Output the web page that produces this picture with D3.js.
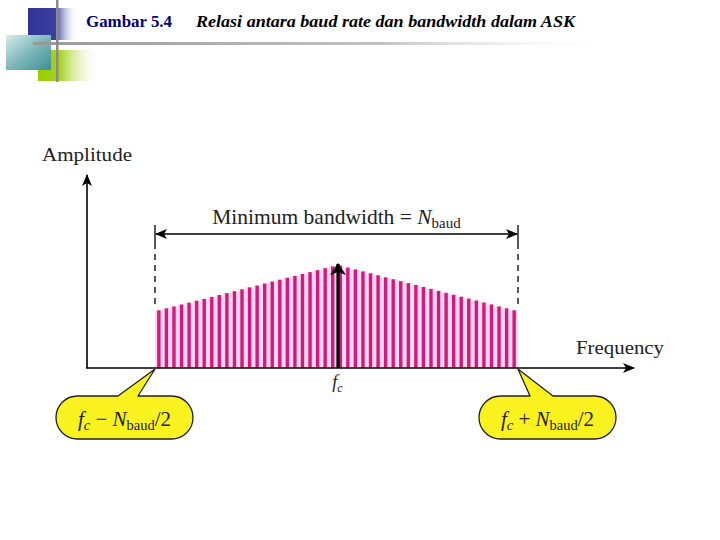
<!DOCTYPE html>
<html><head><meta charset="utf-8">
<script src="https://cdn.jsdelivr.net/npm/d3@7"></script>
<style>body{margin:0;background:#fff}svg{display:block}</style>
</head><body>
<svg id="c" width="720" height="540"></svg>
<script>
// ---- data ----
const titleNumber = "Gambar 5.4";
const titleText = "Relasi antara baud rate dan bandwidth dalam ASK";
const axisLabels = ["Amplitude", "Frequency"];
const bandwidthLabel = ["Minimum bandwidth = ", "N", "baud"];
// bar (component) amplitudes across the band, left to right
const amplitudes = [0.560,0.579,0.597,0.616,0.634,0.653,0.671,0.690,0.709,0.727,0.746,0.764,
  0.783,0.801,0.820,0.839,0.857,0.876,0.894,0.913,0.931,0.950,0.969,0.987,
  0.994,0.975,0.957,0.938,0.919,0.900,0.881,0.862,0.843,0.824,0.806,0.787,
  0.768,0.749,0.730,0.711,0.692,0.674,0.655,0.636,0.617,0.598,0.579,0.560];
const carrierAmplitude = 1.0;
const bandEdges = [-0.5, 0.5]; // fc -/+ Nbaud/2
const callouts = [{f:-0.5, sign:"\u2212"}, {f:0.5, sign:"+"}];

const svg = d3.select("#c");
const defs = svg.append("defs");
const SERIF = "Liberation Serif";

// ---- header decoration ----
function lg(id, stops, x2, y2){
  const g = defs.append("linearGradient").attr("id", id)
    .attr("x1",0).attr("y1",0).attr("x2",x2).attr("y2",y2);
  stops.forEach(s=>g.append("stop").attr("offset",s[0]).attr("stop-color",s[1]).attr("stop-opacity",s[2]===undefined?1:s[2]));
}
lg("gBlue", [[0,"#333399"],[0.55,"#3a3f9c"],[1,"#ffffff",0]], 1, 0);
lg("gTeal", [[0,"#d8ecec"],[0.5,"#7fb8ba"],[1,"#3d8f95"]], 1, 1);
lg("gGreen", [[0,"#99cc00"],[0.35,"#a6d224"],[1,"#ffffff",0]], 1, 0);
lg("gLine", [[0,"#999999"],[0.6,"#c4c4c4"],[1,"#ffffff",0]], 1, 0);

svg.append("rect").attr("x",28).attr("y",8).attr("width",50).attr("height",32).attr("fill","url(#gBlue)");
svg.append("rect").attr("x",38).attr("y",50).attr("width",62).attr("height",31).attr("fill","url(#gGreen)");
svg.append("rect").attr("x",6).attr("y",35).attr("width",45).attr("height",35).attr("fill","url(#gTeal)");
svg.append("rect").attr("x",33).attr("y",42).attr("width",590).attr("height",3).attr("fill","url(#gLine)");
svg.append("rect").attr("x",56).attr("y",0).attr("width",2.5).attr("height",82).attr("fill","#8a8a8a");

svg.append("text").attr("x",86).attr("y",27)
  .attr("font-family",SERIF).attr("font-weight","bold").attr("font-size",16.5)
  .attr("textLength",86).attr("lengthAdjust","spacingAndGlyphs")
  .attr("fill","#000080").text(titleNumber);
svg.append("text").attr("x",196).attr("y",27)
  .attr("font-family",SERIF).attr("font-weight","bold").attr("font-style","italic")
  .attr("font-size",17).attr("textLength",379).attr("lengthAdjust","spacingAndGlyphs")
  .attr("fill","#000").text(titleText);

// ---- scales ----
const x0 = 87, y0 = 368;
const fx = d3.scaleLinear().domain(bandEdges).range([155, 518]);
const band = d3.scaleBand().domain(d3.range(amplitudes.length)).range([153, 520]).padding(0.55);
const y = d3.scaleLinear().domain([0, 1]).range([y0, 265]);

// arrow markers
defs.append("marker").attr("id","ah").attr("viewBox","0 0 12 10").attr("refX",11).attr("refY",5)
  .attr("markerWidth",12).attr("markerHeight",10).attr("markerUnits","userSpaceOnUse").attr("orient","auto-start-reverse")
  .append("path").attr("d","M0,0 L12,5 L0,10 L3,5 Z").attr("fill","#000");
defs.append("marker").attr("id","ahBig").attr("viewBox","0 0 12 16").attr("refX",11).attr("refY",8)
  .attr("markerWidth",14).attr("markerHeight",16).attr("markerUnits","userSpaceOnUse").attr("orient","auto")
  .append("path").attr("d","M0,0 L12,8 L0,16 L3,8 Z").attr("fill","#000");

// ---- spectrum ----
const areaPts = [];
amplitudes.forEach((a,i)=>{
  const step = band.step();
  const cx = band(i) + band.bandwidth()/2;
  areaPts.push([cx - step/2, a], [cx + step/2, a]);
});
svg.append("path")
  .attr("d", d3.area().x(d=>d[0]).y0(y(0)).y1(d=>y(d[1]))(areaPts))
  .attr("fill","#fdd9f0");
svg.append("g").selectAll("rect").data(amplitudes).join("rect")
  .attr("x",(d,i)=>band(i)).attr("width",band.bandwidth())
  .attr("y",d=>y(d)).attr("height",d=>y(0)-y(d))
  .attr("fill","#d3197f");

// ---- axes ----
svg.append("line").attr("x1",x0).attr("y1",y0).attr("x2",x0).attr("y2",175)
  .attr("stroke","#000").attr("stroke-width",1.6).attr("marker-end","url(#ah)");
svg.append("line").attr("x1",x0-1).attr("y1",y0).attr("x2",634).attr("y2",y0)
  .attr("stroke","#000").attr("stroke-width",1.6).attr("marker-end","url(#ah)");
svg.append("text").attr("x",42).attr("y",161)
  .attr("font-family",SERIF).attr("font-size",19).attr("textLength",90).attr("lengthAdjust","spacingAndGlyphs")
  .attr("fill","#222").text(axisLabels[0]);
svg.append("text").attr("x",576).attr("y",354)
  .attr("font-family",SERIF).attr("font-size",19).attr("textLength",88).attr("lengthAdjust","spacingAndGlyphs")
  .attr("fill","#222").text(axisLabels[1]);

// carrier arrow
svg.append("line").attr("x1",fx(0)+1.5).attr("y1",y0).attr("x2",fx(0)+1.5).attr("y2",y(carrierAmplitude)-1)
  .attr("stroke","#000").attr("stroke-width",3.2).attr("marker-end","url(#ahBig)");
const fcT = svg.append("text").attr("x",fx(0)+1).attr("y",388).attr("text-anchor","middle")
  .attr("font-family",SERIF).attr("font-style","italic").attr("font-size",18).attr("fill","#222");
fcT.append("tspan").text("f");
fcT.append("tspan").attr("font-size",12).attr("dy",4).text("c");

// bandwidth dimension
bandEdges.forEach(f=>{
  svg.append("line").attr("x1",fx(f)).attr("x2",fx(f)).attr("y1",243).attr("y2",308)
    .attr("stroke","#222").attr("stroke-width",1.5).attr("stroke-dasharray","6,5");
  svg.append("line").attr("x1",fx(f)).attr("x2",fx(f)).attr("y1",225).attr("y2",243)
    .attr("stroke","#222").attr("stroke-width",1.5);
});
svg.append("line").attr("x1",fx(-0.5)+1).attr("x2",fx(0.5)-1).attr("y1",234).attr("y2",234)
  .attr("stroke","#000").attr("stroke-width",1.5)
  .attr("marker-start","url(#ah)").attr("marker-end","url(#ah)");
const bwT = svg.append("text").attr("x",fx(0)).attr("y",224).attr("text-anchor","middle")
  .attr("font-family",SERIF).attr("font-size",21.5).attr("fill","#222");
bwT.append("tspan").text(bandwidthLabel[0]);
bwT.append("tspan").attr("font-style","italic").text(bandwidthLabel[1]);
bwT.append("tspan").attr("font-size",15).attr("dy",4).text(bandwidthLabel[2]);

// ---- callouts ----
callouts.forEach(c=>{
  const tipX = fx(c.f), tipY = y0 + 1;
  const left = c.f < 0;
  const bx = left ? 56 : 479, bw = 137, by = 396, bh = 43, r = 21.5;
  const p0 = left ? bx + 62 : bx + 51, p1 = left ? bx + 82 : bx + 74;
  const path = d3.path();
  path.moveTo(bx + r, by);
  path.lineTo(p0, by);
  path.lineTo(tipX, tipY);
  path.lineTo(p1, by);
  path.lineTo(bx + bw - r, by);
  path.arc(bx + bw - r, by + r, r, -Math.PI/2, Math.PI/2);
  path.lineTo(bx + r, by + bh);
  path.arc(bx + r, by + r, r, Math.PI/2, 3*Math.PI/2);
  path.closePath();
  svg.append("path").attr("d", path.toString()).attr("fill","#f9f21f")
    .attr("stroke","#222").attr("stroke-width",1.3).attr("stroke-linejoin","round");
  const t = svg.append("text").attr("x", bx + bw/2).attr("y", by + 30).attr("text-anchor","middle")
    .attr("font-family",SERIF).attr("font-size",21).attr("fill","#222");
  t.append("tspan").attr("font-style","italic").text("f");
  t.append("tspan").attr("font-style","italic").attr("font-size",14.5).attr("dy",4).text("c");
  t.append("tspan").attr("dy",-4).text(" " + c.sign + " ");
  t.append("tspan").attr("font-style","italic").text("N");
  t.append("tspan").attr("font-size",14.5).attr("dy",4).text("baud");
  t.append("tspan").attr("dy",-4).text("/2");
});
</script>
</body></html>
